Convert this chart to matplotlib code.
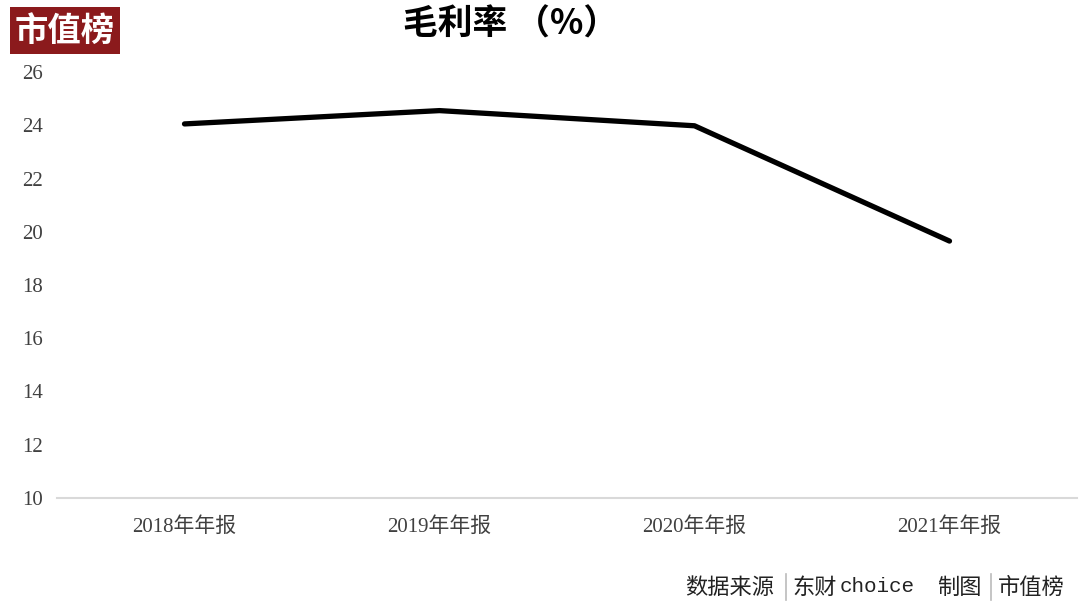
import matplotlib
matplotlib.use("Agg")
import matplotlib.pyplot as plt
from matplotlib.patches import Rectangle

plt.rcParams['font.family'] = ['Liberation Serif', 'Noto Sans CJK SC', 'DejaVu Sans']

# data
periods = ['2018年年报', '2019年年报', '2020年年报', '2021年年报']
gross_margin = [24.05, 24.55, 23.98, 19.65]
y_ticks = [10, 12, 14, 16, 18, 20, 22, 24, 26]

W, H = 1080, 605
fig = plt.figure(figsize=(W / 100, H / 100), dpi=100)
ax = fig.add_axes([57 / W, (H - 498) / H, (1077 - 57) / W, (498 - 72) / H])

x = range(len(periods))
ax.plot(x, gross_margin, color='black', lw=3.8, solid_capstyle='round', solid_joinstyle='round')

ax.set_xlim(-0.5, len(periods) - 0.5)
ax.set_ylim(10, 26)
ax.set_yticks(y_ticks)
ax.set_xticks(list(x))
ax.set_xticklabels(periods)
ax.tick_params(axis='both', length=0, colors='#404040')
ax.tick_params(axis='y', labelsize=15, pad=25)
ax.tick_params(axis='x', labelsize=15, pad=14)
for lbl in ax.get_yticklabels():
    lbl.set_horizontalalignment('left')

for s in ['top', 'right', 'left']:
    ax.spines[s].set_visible(False)
ax.spines['bottom'].set_color('#d9d9d9')
ax.spines['bottom'].set_linewidth(1.5)

# title
fig.text(511 / W, 1 - 24 / H, '毛利率 （%）', ha='center', va='center', fontsize=25,
         fontweight='bold', family=['Noto Sans CJK SC', 'DejaVu Sans'])

# logo
fig.patches.append(Rectangle((10 / W, 1 - 54 / H), 110 / W, 47 / H, transform=fig.transFigure,
                             facecolor='#8b1a1c', edgecolor='none'))
fig.text(65 / W, 1 - 31 / H, '市值榜', ha='center', va='center', fontsize=24, color='white',
         fontweight='bold', family=['Noto Sans CJK SC'])

# footer
fy = 1 - 587 / H
cjk = ['Noto Sans CJK SC', 'DejaVu Sans']
fig.text(685 / W, fy, '数据来源', ha='left', va='center', fontsize=16, family=cjk, color='#222222')
fig.text(792 / W, fy, '东财', ha='left', va='center', fontsize=16, family=cjk, color='#222222')
fig.text(840 / W, fy, 'choice', ha='left', va='center', fontsize=15, family=['Liberation Mono'], color='#222222')
fig.text(937 / W, fy, '制图', ha='left', va='center', fontsize=16, family=cjk, color='#222222')
fig.text(998 / W, fy, '市值榜', ha='left', va='center', fontsize=16, family=cjk, color='#222222')
for bx in [786, 991]:
    fig.add_artist(plt.Line2D([bx / W, bx / W], [1 - 574 / H, 1 - 600 / H], color='#bbbbbb', lw=1.2))

fig.savefig('out.png', dpi=100, facecolor='white')
